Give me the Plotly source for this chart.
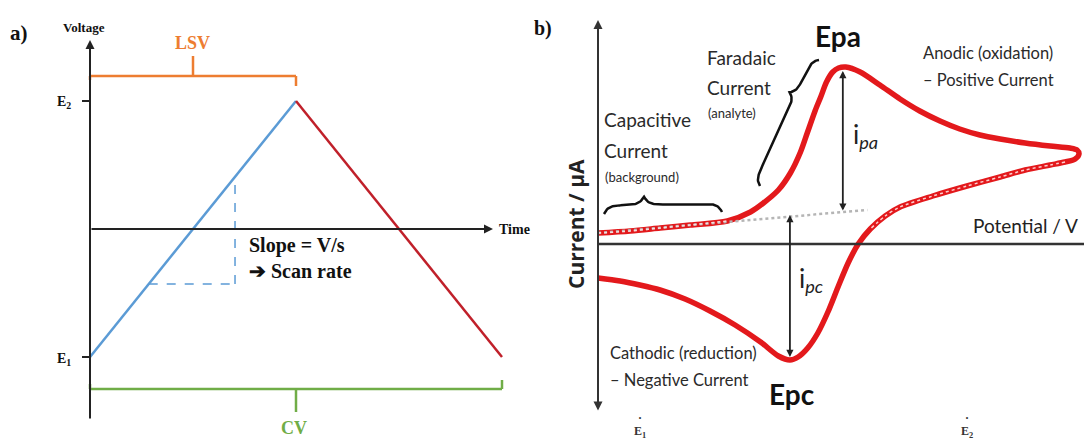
import math
import plotly.graph_objects as go

# ---------------- data ----------------
# a) triangular potential waveform applied in LSV / CV
E1, E2 = -1.0, 1.0
time_pts = [0.0, 1.0, 2.0]
volt_pts = [E1, E2, E1]
slope_t = [0.285, 0.704]          # time span of the slope triangle on the ramp

# b) cyclic voltammogram (potential in V, current in uA)
fwd_V = [-0.200, -0.133, -0.071, -0.008, 0.069, 0.117, 0.144, 0.175, 0.200, 0.221,
         0.235, 0.252, 0.263, 0.275, 0.288, 0.300, 0.315, 0.345, 0.386, 0.428,
         0.469, 0.511, 0.552, 0.594, 0.636, 0.688, 0.740, 0.781, 0.796, 0.800]
fwd_I = [1.1, 1.3, 1.6, 1.9, 2.3, 3.2, 4.1, 5.4, 7.1, 9.2,
         11.1, 13.4, 14.7, 16.2, 17.2, 17.6, 17.7, 17.2, 15.9, 14.5,
         13.3, 12.3, 11.5, 10.9, 10.5, 10.1, 9.8, 9.6, 9.4, 9.0]
rev_V = [0.792, 0.771, 0.740, 0.688, 0.636, 0.567, 0.496, 0.428, 0.397, 0.366,
         0.341, 0.320, 0.299, 0.278, 0.257, 0.236, 0.216, 0.199, 0.175, 0.138,
         0.085, 0.033, -0.019, -0.071, -0.113, -0.154, -0.200]
rev_I = [8.5, 8.2, 7.9, 7.4, 6.7, 5.8, 4.8, 3.7, 2.8, 1.5,
         0.0, -1.9, -4.3, -6.8, -8.9, -10.4, -11.3, -11.6, -11.2, -9.8,
         -8.1, -6.7, -5.5, -4.6, -4.1, -3.7, -3.4]
base_V = [-0.200, 0.360]          # extrapolated capacitive baseline
base_I = [1.1, 3.4]
tick_V = [-0.113, 0.567]          # E1 / E2 marks under the potential axis
tick_lbl = ["E<sub>1</sub>", "E<sub>2</sub>"]

# ---------------- geometry ----------------
W, H = 1084, 439
A_T0, A_ST, A_V0, A_SV = 90, 206, 229, 128      # panel a: px of t=0, px/unit, py of V=0, px/unit
B_V0PX, B_V0, B_SV, B_I0, B_SI = 598, -0.2, 481, 244, 10
A_DOM = (0, 530)
B_DOM = (530, W)


def a_xy(px, py):
    return (px - A_T0) / A_ST, (A_V0 - py) / A_SV


def b_xy(px, py):
    return B_V0 + (px - B_V0PX) / B_SV, (B_I0 - py) / B_SI


def P(px, py):
    return px / W, 1 - py / H


SERIF = "Liberation Serif, Times New Roman, serif"
SANS = "Lato, Open Sans, sans-serif"
BLUE, DRED, ORANGE, GREEN, RED = "#5b9bd5", "#c0202a", "#ed7d31", "#70ad47", "#e3191c"
INK = "#2a2a2a"

fig = go.Figure()
ann = []
shapes = []


def txt(px, py, s, size, color="#111", family=SANS, xanchor="center", bold=False, angle=0):
    x, y = P(px, py)
    if bold:
        s = "<b>" + s + "</b>"
    ann.append(dict(x=x, y=y, xref="paper", yref="paper", text=s, showarrow=False,
                    xanchor=xanchor, yanchor="middle", textangle=angle,
                    font=dict(size=size, color=color, family=family)))


def arrow(ref, tail, head, width=2, color="#222", both=False, size=1.0):
    d = dict(x=head[0], y=head[1], ax=tail[0], ay=tail[1], xref="x" + ref, yref="y" + ref,
             axref="x" + ref, ayref="y" + ref, text="", showarrow=True, arrowhead=2,
             arrowsize=size, arrowwidth=width, arrowcolor=color)
    if both:
        d.update(arrowside="end+start", startarrowhead=2, startarrowsize=size)
    ann.append(d)


def seg(ref, p0, p1, color, width=2, dash="solid"):
    shapes.append(dict(type="line", xref="x" + ref, yref="y" + ref, x0=p0[0], y0=p0[1],
                       x1=p1[0], y1=p1[1], line=dict(color=color, width=width, dash=dash)))


# ---------------- panel a ----------------
fig.add_trace(go.Scatter(x=time_pts[:2], y=volt_pts[:2], mode="lines",
                         line=dict(color=BLUE, width=2.5), xaxis="x", yaxis="y"))
fig.add_trace(go.Scatter(x=time_pts[1:], y=volt_pts[1:], mode="lines",
                         line=dict(color=DRED, width=2.5), xaxis="x", yaxis="y"))

ramp = lambda t: E1 + (E2 - E1) * t
seg("", (slope_t[0], ramp(slope_t[0])), (slope_t[1], ramp(slope_t[0])), BLUE, 1.5, "dash")
seg("", (slope_t[1], ramp(slope_t[0])), (slope_t[1], ramp(slope_t[1])), BLUE, 1.5, "dash")

# axes
arrow("", (0, a_xy(0, 420)[1]), (0, a_xy(0, 40)[1]), width=2, color="#222", size=0.9)
arrow("", (0, 0), (a_xy(493, 0)[0], 0), width=2, color="#222", size=0.9)
for v in (E1, E2):
    seg("", (a_xy(82, 0)[0], v), (0, v), "#222", 2)

# LSV bracket
yb, yh, yc = a_xy(0, 76)[1], a_xy(0, 86)[1], a_xy(0, 56)[1]
seg("", (0, yb), (time_pts[1], yb), ORANGE, 2.5)
seg("", (time_pts[1], yb), (time_pts[1], yh), ORANGE, 2.5)
seg("", (0, yb), (0, a_xy(0, 80)[1]), ORANGE, 2.5)
seg("", (time_pts[1] / 2, yb), (time_pts[1] / 2, yc), ORANGE, 2.5)
# CV bracket
yb, yh, yc = a_xy(0, 389)[1], a_xy(0, 380)[1], a_xy(0, 412)[1]
seg("", (0, yb), (time_pts[2], yb), GREEN, 2.5)
seg("", (time_pts[2], yb), (time_pts[2], yh), GREEN, 2.5)
seg("", (0, yb), (0, a_xy(0, 384)[1]), GREEN, 2.5)
seg("", (time_pts[1], yb), (time_pts[1], yc), GREEN, 2.5)

txt(8, 33, "a)", 21, "#111", SERIF, "left", True)
txt(61, 27, "Voltage", 13, "#111", SERIF, "left", True)
txt(192, 43, "LSV", 18, ORANGE, SERIF, "center", True)
txt(294, 428, "CV", 18, GREEN, SERIF, "center", True)
txt(73, 102, "E<sub>2</sub>", 14, "#111", SERIF, "right", True)
txt(73, 359, "E<sub>1</sub>", 14, "#111", SERIF, "right", True)
txt(497, 229, "Time", 14, "#111", SERIF, "left", True)
txt(247, 245, "Slope = V/s", 20, "#111", SERIF, "left", True)
txt(247, 271, "➔ Scan rate", 20, "#111", SERIF, "left", True)

# ---------------- panel b ----------------
fig.add_trace(go.Scatter(x=fwd_V + rev_V, y=fwd_I + rev_I, mode="lines",
                         line=dict(color=RED, width=5.5, shape="spline", smoothing=0.8),
                         xaxis="x2", yaxis="y2"))
# baseline extrapolation (dotted)
fig.add_trace(go.Scatter(x=base_V, y=base_I, mode="lines",
                         line=dict(color="#b5b5b5", width=2.5, dash="dot"),
                         xaxis="x2", yaxis="y2"))
for lo, hi, vs, cs in [(0, 5, fwd_V, fwd_I), (1, 10, rev_V, rev_I)]:
    fig.add_trace(go.Scatter(x=vs[lo:hi], y=cs[lo:hi], mode="lines",
                             line=dict(color="rgba(255,225,225,0.9)", width=1.5, dash="dot",
                                       shape="spline", smoothing=0.8),
                             xaxis="x2", yaxis="y2"))

# axes
arrow("2", (B_V0, b_xy(0, 412)[1]), (B_V0, b_xy(0, 20)[1]), width=2, color="#333",
      both=True, size=0.9)
seg("2", (B_V0, 0), (b_xy(W, 0)[0], 0), "#333", 2.5)

# peak current arrows
ipk = max(fwd_I)
vpk = fwd_V[fwd_I.index(ipk)] - 0.006
bl = lambda v: base_I[0] + (base_I[1] - base_I[0]) * (v - base_V[0]) / (base_V[1] - base_V[0])
arrow("2", (vpk, bl(vpk)), (vpk, ipk - 0.4), width=1.8, color="#222", both=True, size=0.8)
imn = min(rev_I)
vmn = rev_V[rev_I.index(imn)]
arrow("2", (vmn, bl(vmn) + 0.3), (vmn, imn + 0.3), width=1.8, color="#222", both=True, size=0.8)


def brace(p0, p1, h, frac, r=4.0, n=120):
    L = math.hypot(p1[0] - p0[0], p1[1] - p0[1])
    ux, uy = (p1[0] - p0[0]) / L, (p1[1] - p0[1]) / L
    nx, ny = uy, -ux
    st = frac * L
    xs, ys = [], []
    for i in range(n + 1):
        s = L * i / n
        if s <= st:
            t = h / 2 * (1 - math.exp(-s / r)) + h / 2 * math.exp(-(st - s) / r)
        else:
            q, qt = L - s, L - st
            t = h / 2 * (1 - math.exp(-q / r)) + h / 2 * math.exp(-(qt - q) / r)
        px, py = p0[0] + ux * s + nx * t, p0[1] + uy * s + ny * t
        v, c = b_xy(px, py)
        xs.append(v)
        ys.append(c)
    return xs, ys


for p0, p1, h, fr in [((604, 214), (722, 212), 17, 0.34), ((760, 186), (819, 60), 13, 0.70)]:
    bx, by = brace(p0, p1, h, fr)
    fig.add_trace(go.Scatter(x=bx, y=by, mode="lines", line=dict(color="#111", width=2.5),
                             xaxis="x2", yaxis="y2"))

txt(532, 28, "b)", 20, "#111", SERIF, "left", True)
txt(838, 36, "Epa", 28, "#111", SANS, "center", True)
txt(792, 394, "Epc", 28, "#111", SANS, "center", True)
txt(705, 58, "Faradaic", 19, INK, SANS, "left")
txt(705, 87, "Current", 19, INK, SANS, "left")
txt(706, 113, "(analyte)", 13, INK, SANS, "left")
txt(602, 120, "Capacitive", 19, INK, SANS, "left")
txt(602, 150, "Current", 19, INK, SANS, "left")
txt(603, 177, "(background)", 13, INK, SANS, "left")
txt(921, 53, "Anodic (oxidation)", 16.5, INK, SANS, "left")
txt(921, 80, "– Positive Current", 16.5, INK, SANS, "left")
txt(608, 353, "Cathodic (reduction)", 16.5, INK, SANS, "left")
txt(608, 380, "– Negative Current", 16.5, INK, SANS, "left")
txt(576, 224, "Current / μA", 21, "#222", "Open Sans, Lato, sans-serif", "center", True, -90)
txt(1080, 225, "Potential / V", 19, "#222", SANS, "right")
txt(851, 135, "i<sub><i>pa</i></sub>", 26, "#222", SANS, "left")
txt(797, 279, "i<sub><i>pc</i></sub>", 26, "#222", SANS, "left")
for v, lb in zip(tick_V, tick_lbl):
    px = B_V0PX + (v - B_V0) * B_SV
    txt(px, 432, lb, 12, "#333", SERIF, "center", True)
    txt(px, 418, "·", 12, "#333", SERIF, "center", True)

# ---------------- layout ----------------
xa = [a_xy(A_DOM[0], 0)[0], a_xy(A_DOM[1], 0)[0]]
ya = [a_xy(0, H)[1], a_xy(0, 0)[1]]
xb = [b_xy(B_DOM[0], 0)[0], b_xy(B_DOM[1], 0)[0]]
yb2 = [b_xy(0, H)[1], b_xy(0, 0)[1]]
hidden = dict(visible=False, showgrid=False, zeroline=False, fixedrange=True)
fig.update_layout(
    width=W, height=H, margin=dict(l=0, r=0, t=0, b=0),
    paper_bgcolor="white", plot_bgcolor="white", showlegend=False,
    xaxis=dict(domain=[A_DOM[0] / W, A_DOM[1] / W], range=xa, **hidden),
    yaxis=dict(domain=[0, 1], range=ya, anchor="x", **hidden),
    xaxis2=dict(domain=[B_DOM[0] / W, 1], range=xb, anchor="y2", **hidden),
    yaxis2=dict(domain=[0, 1], range=yb2, anchor="x2", **hidden),
    annotations=ann, shapes=shapes,
)
fig.write_html("out.html")
